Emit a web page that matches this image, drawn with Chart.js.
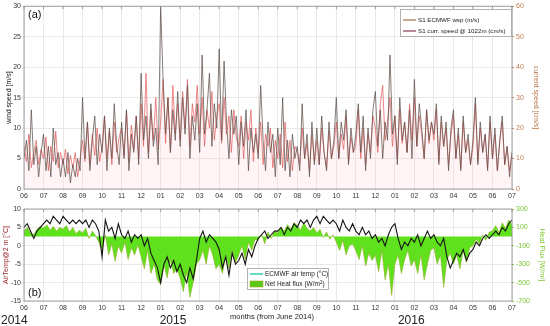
<!DOCTYPE html>
<html>
<head>
<meta charset="utf-8">
<script src="https://cdn.jsdelivr.net/npm/chart.js@4.4.0/dist/chart.umd.min.js"></script>
<style>
  body { margin: 0; background: #fff; }
  #chart-a { position: absolute; left: 0; top: 0; }
  #chart-b { position: absolute; left: 0; top: 200px; }
</style>
</head>
<body>
<canvas id="chart-a" width="550" height="200"></canvas>
<canvas id="chart-b" width="550" height="126"></canvas>
<script>
// samples per month in each panel (months counted from June 2014)
var STEP_A = 8;
var STEP_B = 6;
var N_MONTHS = 25;

// (a) ECMWF wind speed, m/s
var windSpeed = [
  5, 8, 3, 13, 4, 7, 2, 6,
  9, 3, 7, 2, 10, 4, 6, 2,
  5, 2, 6, 1, 4, 2, 5, 3,
  15, 5, 11, 3, 8, 12, 4, 9,
  6, 12, 3, 10, 5, 14, 7, 4,
  11, 5, 13, 3, 9, 6, 12, 4,
  19, 8, 12, 5, 14, 7, 10, 4,
  30, 18, 9, 15, 6, 13, 8, 16,
  7, 15, 9, 17, 5, 12, 8, 14,
  6, 22, 9, 13, 19, 7, 14, 10,
  23, 8, 21, 11, 5, 13, 9, 12,
  4, 11, 7, 13, 3, 10, 6, 9,
  5, 17, 8, 3, 11, 6, 9, 2,
  10, 4, 15, 3, 8, 2, 9, 5,
  7, 3, 14, 5, 9, 2, 11, 4,
  10, 4, 12, 6, 3, 11, 5, 8,
  15, 5, 11, 8, 13, 4, 10, 6,
  9, 14, 6, 12, 3, 10, 5, 13,
  16, 7, 13, 5, 11, 8, 22, 9,
  12, 4, 15, 8, 11, 6, 13, 5,
  18, 7, 14, 10, 5, 13, 8, 11,
  9, 14, 4, 12, 7, 11, 3, 10,
  13, 5, 10, 3, 12, 6, 9, 4,
  8, 15, 4, 11, 6, 9, 3, 12,
  5, 10, 3, 8, 12, 4, 7, 2,
  6
];

// (a) current speed at 1022 m, cm/s
var currentSpeed = [
  14, 9, 18, 7, 12, 16, 8, 13,
  10, 17, 6, 14, 9, 19, 7, 12,
  8, 13, 5, 11, 7, 12, 4, 10,
  16, 9, 22, 8, 18, 11, 20, 9,
  14, 24, 10, 19, 8, 22, 12, 17,
  20, 11, 26, 9, 21, 13, 24, 10,
  28, 14, 38, 12, 26, 16, 30, 13,
  22, 36, 15, 30, 12, 34, 18, 28,
  16, 32, 20, 36, 14, 28, 22, 34,
  18, 30, 14, 26, 20, 32, 16, 24,
  28, 15, 30, 18, 24, 12, 26, 17,
  14, 24, 10, 22, 16, 26, 9, 20,
  12, 22, 8, 18, 14, 20, 7, 16,
  10, 18, 7, 22, 9, 16, 6, 14,
  12, 8, 20, 10, 15, 6, 18, 9,
  16, 8, 20, 12, 7, 19, 10, 14,
  22, 10, 18, 13, 24, 9, 17, 12,
  14, 26, 10, 20, 8, 18, 12, 24,
  20, 12, 28, 34, 16, 22, 30, 14,
  24, 10, 26, 15, 22, 12, 28, 16,
  30, 14, 24, 18, 10, 26, 15, 22,
  16, 26, 9, 22, 14, 20, 8, 18,
  24, 10, 18, 7, 22, 12, 16, 8,
  14, 28, 9, 20, 12, 18, 7, 22,
  10, 18, 6, 16, 22, 8, 14, 6,
  12
];

// (b) ECMWF air temperature at 2 m, degC
var airTemp = [
  5, 6, 4, 2, 4, 5,
  6, 7, 6, 8, 7, 6,
  8, 7, 6, 7, 6, 7,
  6, 7, 5, 7, 6, 4,
  -3, 7, 4, 5, 2, 6,
  3, 2, 4, 1, 3, 2,
  3, 0, 2, -2, -4, -6,
  -10, -5, -3, -6, -4, -7,
  -5, -8, -10, -6, -9, -4,
  2, 4, 1, 3, 2, 1,
  -1, -6, -3, -8, -2, -5,
  -4, -2, -5, -1, -3, 0,
  2, 3, 4, 2, 3, 4,
  4, 5, 3, 5, 4, 6,
  5, 7, 6, 7, 5, 7,
  8, 6, 8, 7, 6, 7,
  6, 4, 7, 5, 4, 6,
  4, 3, 5, 3, 4, 2,
  3, 1, 2, 0, 3, 5,
  6, 2, -1, 1, 0, 2,
  1, 3, 0, 2, 4, 2,
  3, 1, 0, 2, -3, -6,
  -4, -2, -3, -1, -4, -2,
  -1, 1, 0, 2, 3, 2,
  3, 4, 3, 5, 4, 6,
  7
];

// (b) net heat flux, W/m2
var heatFlux = [
  60, 100, 40, 20, 80, 110,
  90, 130, 70, 110, 60, 100,
  80, 120, 50, 100, 30, 70,
  40, 90, -20, 60, 10, -60,
  -150, 20, -200, -80, -270, -100,
  -180, -60, -250, -120, -200, -90,
  -220, -350, -150, -400, -300, -470,
  -520, -300, -450, -250, -400, -350,
  -450, -600, -380, -660, -500, -300,
  -250, -150, -300, -100, -200, -350,
  -300, -400, -200, -350, -150, -280,
  -200, -100, -250, -60, -150, -30,
  -40, 30, -80, 50, -20, 60,
  40, 100, 60, 130, 80, 150,
  120, 70, 150, 90, 60, 100,
  40, 80, -10, 50, -30, 20,
  -60, -150, -40, -200, -100, -80,
  -150, -250, -100, -320, -180, -260,
  -200, -380, -150, -470, -300, -640,
  -300, -200, -400, -250, -150, -320,
  -250, -400, -200, -470, -300, -150,
  -120, -300, -200, -550, -250, -180,
  -300, -200, -350, -150, -280, -120,
  -100, -30, -80, 20, -40, 50,
  60, 120, 40, 150, 90, 180,
  130
];

var yearLabels = ["2014", "2015", "2016"];

function pts(arr, step) {
  return arr.map(function (v, i) { return { x: i / step, y: v }; });
}

function monthLabel(v) {
  if (!Number.isInteger(v)) return "";
  var m = ((5 + v) % 12) + 1;
  return (m < 10 ? "0" : "") + m;
}

var FONT = "'Liberation Sans', Arial, sans-serif";
var tickFont = { family: FONT, size: 7 };
var gridColor = "rgb(232,232,232)";

function fixW(w) { return function (s) { s.width = w; }; }
function fixH(h) { return function (s) { s.height = h; }; }

function xAxis(h) {
  return {
    type: "linear", min: 0, max: N_MONTHS,
    afterFit: fixH(h),
    grid: { color: gridColor, tickLength: 2 },
    border: { display: false },
    ticks: { stepSize: 1, autoSkip: false, maxRotation: 0, padding: 1, font: tickFont, color: "#333", callback: monthLabel }
  };
}

// box round the plot area plus inward ticks on the top edge
var frame = {
  id: "frame",
  afterDatasetsDraw: function (chart) {
    var a = chart.chartArea, ctx = chart.ctx, xs = chart.scales.x;
    ctx.save();
    ctx.strokeStyle = "rgb(140,140,140)";
    ctx.lineWidth = 0.8;
    ctx.strokeRect(a.left, a.top, a.right - a.left, a.bottom - a.top);
    ctx.beginPath();
    for (var m = 0; m <= N_MONTHS; m++) {
      var px = xs.getPixelForValue(m);
      ctx.moveTo(px, a.top);
      ctx.lineTo(px, a.top + 3);
    }
    ctx.stroke();
    ctx.restore();
  }
};

var panelA = {
  id: "panelA",
  afterDraw: function (chart) {
    var ctx = chart.ctx;
    ctx.save();
    ctx.fillStyle = "#111";
    ctx.font = "11px " + FONT;
    ctx.fillText("(a)", 28, 18);
    // legend
    ctx.fillStyle = "#fff";
    ctx.strokeStyle = "rgb(160,160,160)";
    ctx.lineWidth = 0.8;
    ctx.fillRect(400.5, 9.5, 111, 27);
    ctx.strokeRect(400.5, 9.5, 111, 27);
    ctx.lineWidth = 1.2;
    ctx.strokeStyle = "rgb(165,110,70)";
    ctx.beginPath(); ctx.moveTo(403, 20); ctx.lineTo(416, 20); ctx.stroke();
    ctx.strokeStyle = "rgb(140,60,80)";
    ctx.beginPath(); ctx.moveTo(403, 31); ctx.lineTo(416, 31); ctx.stroke();
    ctx.fillStyle = "#222";
    ctx.font = "6.2px " + FONT;
    ctx.textBaseline = "middle";
    ctx.fillText("S1 ECMWF wsp (m/s)", 418, 20.5);
    ctx.fillText("S1 curr. speed @ 1022m (cm/s)", 418, 31.5);
    ctx.restore();
  }
};

var panelB = {
  id: "panelB",
  afterDraw: function (chart) {
    var ctx = chart.ctx, xs = chart.scales.x;
    ctx.save();
    ctx.fillStyle = "#111";
    ctx.font = "11px " + FONT;
    ctx.fillText("(b)", 28, 96);
    // legend
    ctx.fillStyle = "#fff";
    ctx.strokeStyle = "rgb(160,160,160)";
    ctx.lineWidth = 0.8;
    ctx.fillRect(247.5, 68.5, 81, 21);
    ctx.strokeRect(247.5, 68.5, 81, 21);
    ctx.strokeStyle = "rgb(60,210,190)";
    ctx.lineWidth = 1.6;
    ctx.beginPath(); ctx.moveTo(250, 74); ctx.lineTo(263, 74); ctx.stroke();
    ctx.fillStyle = "rgb(90,200,25)";
    ctx.fillRect(250, 81, 13, 6);
    ctx.strokeStyle = "rgb(170,170,40)";
    ctx.lineWidth = 0.6;
    ctx.strokeRect(250, 81, 13, 6);
    ctx.fillStyle = "#222";
    ctx.textBaseline = "middle";
    ctx.font = "6.5px " + FONT;
    ctx.fillText("ECMWF air temp (\u00B0C)", 265, 74.5);
    var t = "Net Heat flux (W/m";
    ctx.fillText(t, 265, 84.5);
    var w = ctx.measureText(t).width;
    ctx.font = "4.5px " + FONT;
    ctx.fillText("2", 265 + w, 82.5);
    var w2 = ctx.measureText("2").width;
    ctx.font = "6.5px " + FONT;
    ctx.fillText(")", 265 + w + w2, 84.5);
    // axis caption and years
    ctx.textBaseline = "alphabetic";
    ctx.font = "7.5px " + FONT;
    ctx.textAlign = "center";
    ctx.fillText("months (from June 2014)", 272, 119);
    ctx.textAlign = "left";
    ctx.font = "12px 'Liberation Sans Narrow', " + FONT;
    ctx.fillText(yearLabels[0], 1, 124);
    ctx.fillText(yearLabels[1], xs.getPixelForValue(7) - 1, 124);
    ctx.fillText(yearLabels[2], xs.getPixelForValue(19) + 3, 124);
    ctx.restore();
  }
};

new Chart(document.getElementById("chart-a"), {
  type: "line",
  data: {
    datasets: [
      {
        label: "S1 ECMWF wsp (m/s)",
        data: pts(windSpeed, STEP_A),
        yAxisID: "y",
        borderColor: "rgba(95,82,76,0.95)",
        borderWidth: 0.8,
        pointRadius: 0,
        fill: false,
      },
      {
        label: "S1 curr. speed @ 1022m (cm/s)",
        data: pts(currentSpeed, STEP_A),
        yAxisID: "y1",
        borderColor: "rgba(225,85,85,0.85)",
        backgroundColor: "rgba(255,205,215,0.22)",
        borderWidth: 0.8,
        pointRadius: 0,
        fill: "origin",
      },
    ],
  },
  plugins: [frame, panelA],
  options: {
    responsive: false,
    animation: false,
    layout: { padding: { top: 5, left: 0, right: 0, bottom: 0 } },
    plugins: { legend: { display: false }, tooltip: { enabled: false } },
    scales: {
      x: xAxis(11),
      y: {
        position: "left", min: 0, max: 30,
        afterFit: fixW(24),
        grid: { color: gridColor, tickLength: 2 },
        border: { display: false },
        ticks: { stepSize: 5, padding: 1, font: tickFont, color: "#333" },
        title: { display: true, text: "wind speed [m/s]", font: tickFont, color: "#111", padding: { top: 5, bottom: 0 } },
      },
      y1: {
        position: "right", min: 0, max: 60,
        afterFit: fixW(38),
        grid: { drawOnChartArea: false, tickLength: 2, color: "rgb(200,140,100)" },
        border: { display: false },
        ticks: { stepSize: 10, padding: 2, font: tickFont, color: "rgb(195,125,80)" },
        title: { display: true, text: "current speed [cm/s]", font: tickFont, color: "rgb(185,115,70)", padding: { top: 10, bottom: 0 } },
      },
    },
  },
});

new Chart(document.getElementById("chart-b"), {
  type: "line",
  data: {
    datasets: [
      {
        label: "ECMWF air temp (\u00B0C)",
        data: pts(airTemp, STEP_B),
        yAxisID: "y",
        borderColor: "rgb(20,20,20)",
        borderWidth: 1.1,
        pointRadius: 0,
        fill: false,
      },
      {
        label: "Net Heat flux (W/m2)",
        data: pts(heatFlux, STEP_B),
        yAxisID: "y1",
        borderColor: "rgb(150,175,40)",
        backgroundColor: "rgb(95,225,30)",
        borderWidth: 0.6,
        pointRadius: 0,
        fill: "origin",
      },
    ],
  },
  plugins: [frame, panelB],
  options: {
    responsive: false,
    animation: false,
    layout: { padding: { top: 9, left: 0, right: 0, bottom: 0 } },
    plugins: { legend: { display: false }, tooltip: { enabled: false } },
    scales: {
      x: xAxis(25),
      y: {
        position: "left", min: -15, max: 10,
        afterFit: fixW(24),
        grid: { color: gridColor, tickLength: 2 },
        border: { display: false },
        ticks: { stepSize: 5, padding: 1, font: tickFont, color: "#333" },
        title: { display: true, text: "AirTemp@2 m [\u00B0C]", font: tickFont, color: "rgb(150,30,30)", padding: { top: 2, bottom: 0 } },
      },
      y1: {
        position: "right", min: -700, max: 300,
        afterFit: fixW(38),
        grid: { drawOnChartArea: false, tickLength: 2, color: "rgb(140,200,60)" },
        border: { display: false },
        ticks: { stepSize: 200, padding: 2, font: tickFont, color: "rgb(120,195,50)" },
        title: { display: true, text: "Heat Flux [W/m\u00B2]", font: tickFont, color: "rgb(130,200,50)", padding: { top: 4, bottom: 0 } },
      },
    },
  },
});
</script>
</body>
</html>
